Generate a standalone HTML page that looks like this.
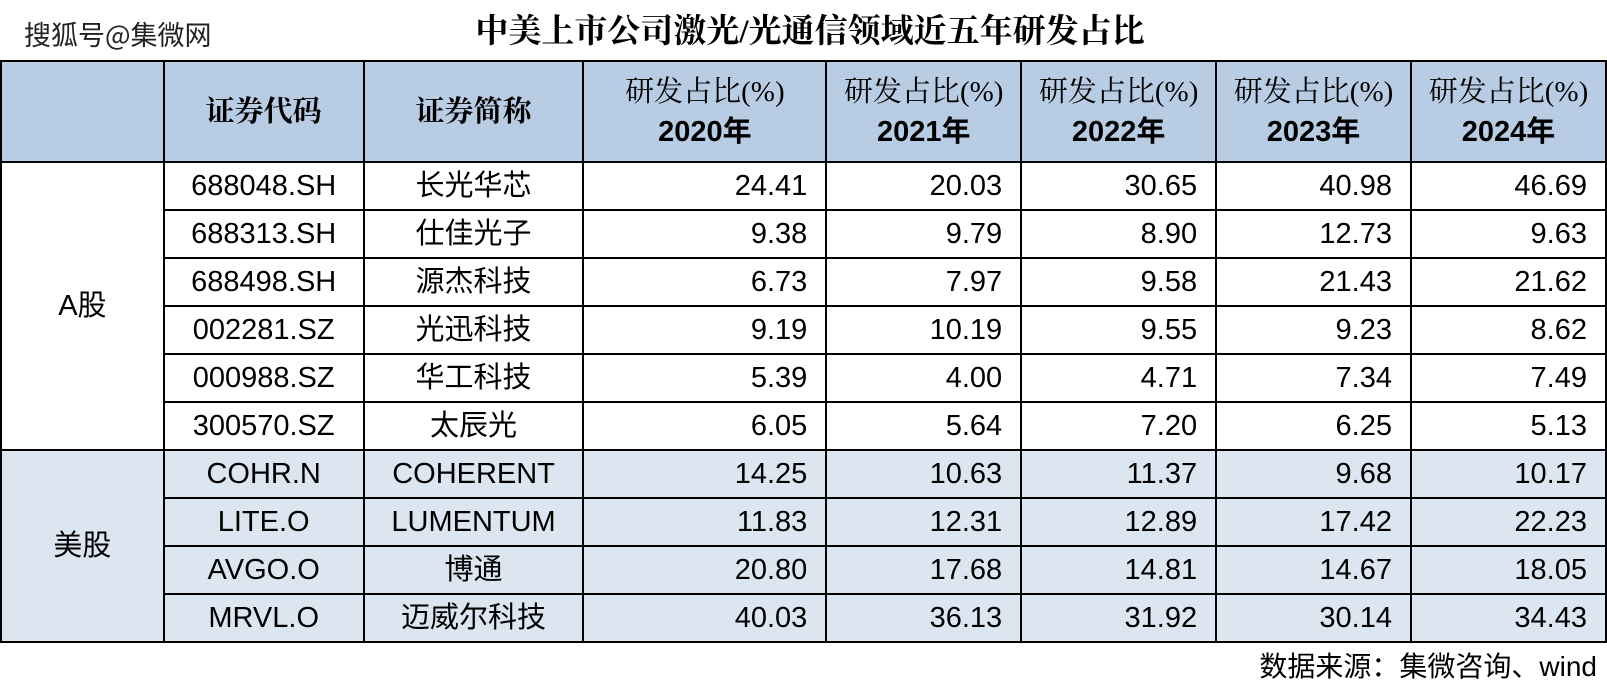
<!DOCTYPE html>
<html><head><meta charset="utf-8">
<style>
body{margin:0;width:1607px;height:695px;background:#fff;position:relative;overflow:hidden;font-family:"Liberation Sans","Noto Sans CJK SC",sans-serif;color:#000}
#wm{position:absolute;left:24px;top:14px;font-size:27px;color:#222;font-family:"Noto Sans CJK SC",sans-serif;text-shadow:0 0 2px #fff,1px 1px 0 #fff}
#title{position:absolute;left:400px;width:820px;top:10px;text-align:center;font-size:33px;font-weight:bold;font-family:"Liberation Serif","Noto Serif CJK SC",serif;line-height:44px}
table{position:absolute;left:0;top:60px;border-collapse:collapse;table-layout:fixed}
td{border:2px solid #000;padding:0;height:46px;font-size:29px;line-height:30px;white-space:nowrap;overflow:hidden}
.h td{height:99px;background:#b8cce4;text-align:center;font-family:"Liberation Serif","Noto Serif CJK SC",serif;font-size:29px;line-height:40px}
.h b{font-family:"Liberation Sans","Noto Sans CJK SC",sans-serif}
.c{text-align:center}
.n{text-align:right;padding-right:18px}
.us td{background:#dce6f1}
#src{position:absolute;right:10px;top:650px;font-size:28px;line-height:34px}
</style></head><body>
<div id="wm">搜狐号@集微网</div>
<div id="title">中美上市公司激光/光通信领域近五年研发占比</div>
<table>
<colgroup><col style="width:163px"><col style="width:200px"><col style="width:220px"><col style="width:243px"><col style="width:195px"><col style="width:195px"><col style="width:195px"><col style="width:195px"></colgroup>
<tbody id="tb">
<tr class="h">
<td></td>
<td><b style="font-family:'Liberation Serif','Noto Serif CJK SC',serif">证券代码</b></td>
<td><b style="font-family:'Liberation Serif','Noto Serif CJK SC',serif">证券简称</b></td>
<td>研发占比(%)<br><b>2020年</b></td>
<td>研发占比(%)<br><b>2021年</b></td>
<td>研发占比(%)<br><b>2022年</b></td>
<td>研发占比(%)<br><b>2023年</b></td>
<td>研发占比(%)<br><b>2024年</b></td>
</tr>
</tbody></table>
<div id="src">数据来源：集微咨询、wind</div>
<script>
const codes=["688048.SH","688313.SH","688498.SH","002281.SZ","000988.SZ","300570.SZ","COHR.N","LITE.O","AVGO.O","MRVL.O"];
const names=["长光华芯","仕佳光子","源杰科技","光迅科技","华工科技","太辰光","COHERENT","LUMENTUM","博通","迈威尔科技"];
const v2020=["24.41","9.38","6.73","9.19","5.39","6.05","14.25","11.83","20.80","40.03"];
const v2021=["20.03","9.79","7.97","10.19","4.00","5.64","10.63","12.31","17.68","36.13"];
const v2022=["30.65","8.90","9.58","9.55","4.71","7.20","11.37","12.89","14.81","31.92"];
const v2023=["40.98","12.73","21.43","9.23","7.34","6.25","9.68","17.42","14.67","30.14"];
const v2024=["46.69","9.63","21.62","8.62","7.49","5.13","10.17","22.23","18.05","34.43"];
const tb=document.getElementById('tb');
for(let i=0;i<codes.length;i++){
  const tr=document.createElement('tr');
  
  
  if(i>=6)tr.className='us';
  if(i===0||i===6){
    const g=document.createElement('td');
    g.rowSpan=i===0?6:4;g.className='c';
    g.textContent=i===0?'A股':'美股';
    
    
    tr.appendChild(g);
  }
  const cells=[[codes[i],'c','code'],[names[i],'c','name'],[v2020[i],'n','2020'],[v2021[i],'n','2021'],[v2022[i],'n','2022'],[v2023[i],'n','2023'],[v2024[i],'n','2024']];
  for(const c of cells){
    const td=document.createElement('td');
    td.textContent=c[0];td.className=c[1];
    
    
    tr.appendChild(td);
  }
  tb.appendChild(tr);
}
</script>
</body></html>
